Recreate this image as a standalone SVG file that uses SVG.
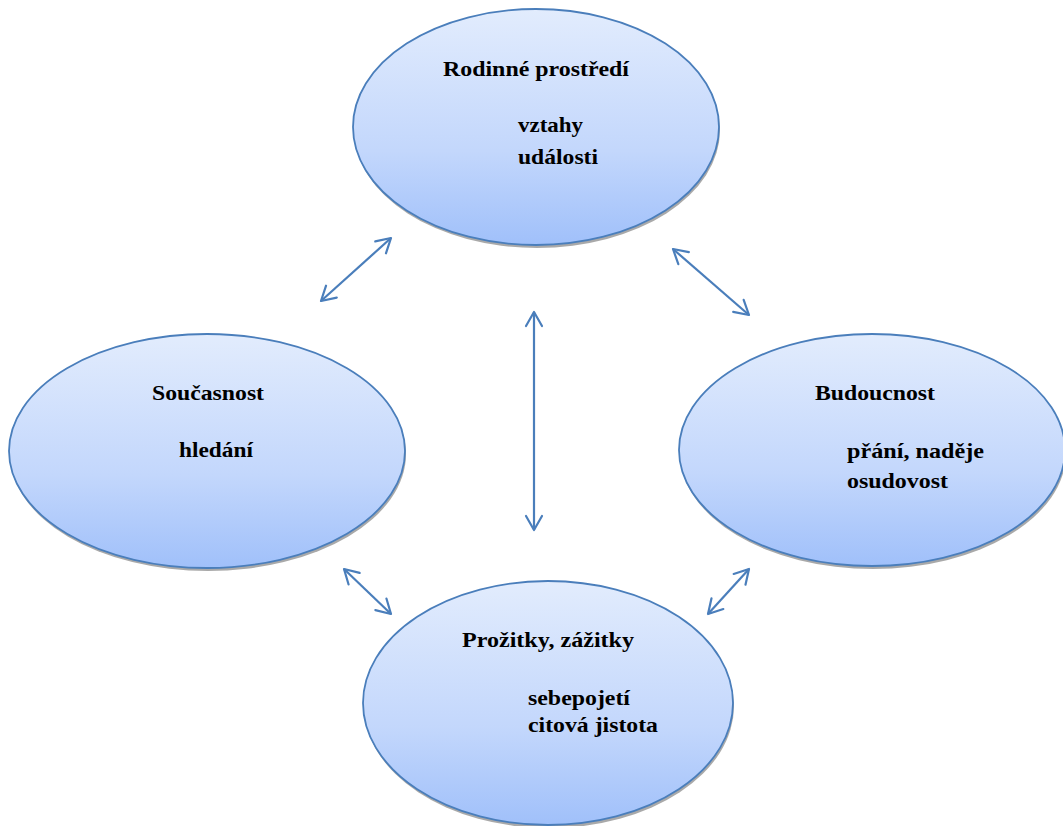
<svg xmlns="http://www.w3.org/2000/svg" width="1063" height="826" viewBox="0 0 1063 826">
<defs>
<linearGradient id="g" x1="0" y1="0" x2="0" y2="1">
<stop offset="0" stop-color="#e2ecfd"/>
<stop offset="0.6" stop-color="#c3d7fc"/>
<stop offset="1" stop-color="#a0c0fa"/>
</linearGradient>
<marker id="ah" viewBox="0 0 20 20" refX="17" refY="10" markerWidth="20" markerHeight="20" markerUnits="userSpaceOnUse" orient="auto-start-reverse">
<path d="M3,2 L17,10 L3,18" fill="none" stroke="#4a7ebb" stroke-width="2.2" stroke-linecap="round" stroke-linejoin="round"/>
</marker>
</defs>
<style>
.sh{fill:#8c8c8c;opacity:0.75}
.el{fill:url(#g);stroke:#4a7ebb;stroke-width:1.8}
.t{font-family:"Liberation Serif","Times New Roman",serif;font-weight:bold;font-size:22px;fill:#000}
.c{stroke:#4a7ebb;stroke-width:2.2;fill:none;marker-start:url(#ah);marker-end:url(#ah)}
</style>
<rect width="1063" height="826" fill="#fff"/>
<g id="rodinne">
<ellipse class="sh" cx="537" cy="130" rx="183" ry="118"/>
<ellipse class="el" cx="536" cy="127" rx="183" ry="118"/>
<text class="t" x="443" y="76" textLength="186" lengthAdjust="spacingAndGlyphs">Rodinné prostředí</text>
<text class="t" x="518" y="132" textLength="65" lengthAdjust="spacingAndGlyphs">vztahy</text>
<text class="t" x="518" y="164" textLength="80" lengthAdjust="spacingAndGlyphs">události</text>
</g>
<g id="soucasnost">
<ellipse class="sh" cx="208" cy="454" rx="198" ry="117"/>
<ellipse class="el" cx="207" cy="451" rx="198" ry="117"/>
<text class="t" x="152" y="400" textLength="112" lengthAdjust="spacingAndGlyphs">Současnost</text>
<text class="t" x="179" y="457" textLength="74" lengthAdjust="spacingAndGlyphs">hledání</text>
</g>
<g id="budoucnost">
<ellipse class="sh" cx="873" cy="453" rx="193" ry="116"/>
<ellipse class="el" cx="872" cy="450" rx="193" ry="116"/>
<text class="t" x="815" y="400" textLength="120" lengthAdjust="spacingAndGlyphs">Budoucnost</text>
<text class="t" x="847" y="458" textLength="137" lengthAdjust="spacingAndGlyphs">přání, naděje</text>
<text class="t" x="847" y="488" textLength="101" lengthAdjust="spacingAndGlyphs">osudovost</text>
</g>
<g id="prozitky">
<ellipse class="sh" cx="549" cy="706" rx="185" ry="122"/>
<ellipse class="el" cx="548" cy="703" rx="185" ry="122"/>
<text class="t" x="462" y="647" textLength="172" lengthAdjust="spacingAndGlyphs">Prožitky, zážitky</text>
<text class="t" x="528" y="705" textLength="102" lengthAdjust="spacingAndGlyphs">sebepojetí</text>
<text class="t" x="528" y="732" textLength="130" lengthAdjust="spacingAndGlyphs">citová jistota</text>
</g>
<g id="connectors">
<line class="c" x1="321" y1="301" x2="391" y2="238"/>
<line class="c" x1="673" y1="249" x2="749" y2="315"/>
<line class="c" x1="534" y1="312" x2="534" y2="530"/>
<line class="c" x1="344" y1="569" x2="391" y2="614"/>
<line class="c" x1="749" y1="569" x2="708" y2="614"/>
</g>
</svg>
